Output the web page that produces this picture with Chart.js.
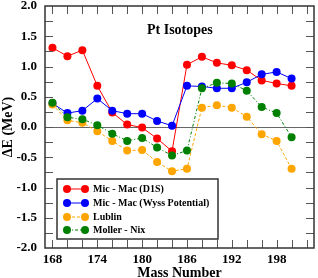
<!DOCTYPE html>
<html>
<head>
<meta charset="utf-8">
<script src="https://cdn.jsdelivr.net/npm/chart.js@4.4.1/dist/chart.umd.min.js"></script>
<style>
html,body{margin:0;padding:0;background:#fff;}
#wrap{width:318px;height:278px;}
</style>
</head>
<body>
<div id="wrap"><canvas id="chart" width="318" height="278"></canvas></div>
<script>
const masses=[168,170,172,174,176,178,180,182,184,186,188,190,192,194,196,198,200];

const micMacD1S=[1.31,1.17,1.27,0.68,0.24,0.04,-0.01,-0.19,-0.40,1.03,1.16,1.06,1.02,0.94,0.77,0.72,0.68];
const micMacWyss=[0.39,0.23,0.27,0.47,0.27,0.22,0.22,0.10,0.02,0.68,0.67,0.64,0.64,0.74,0.87,0.91,0.80];
const lublin=[0.37,0.11,0.07,-0.07,-0.23,-0.39,-0.38,-0.58,-0.73,-0.69,0.32,0.36,0.32,0.17,-0.12,-0.23,-0.69];
const mollerNix=[0.40,0.16,0.13,0.03,-0.11,-0.23,-0.18,-0.34,-0.47,-0.39,0.64,0.73,0.72,0.60,0.33,0.23,-0.17];

const seriesNames=["Mic - Mac (D1S)","Mic - Mac (Wyss Potential)","Lublin","Moller - Nix"];

const xTickLabels=[168,174,180,186,192,198];
const yTickLabels=[-2,-1.5,-1,-0.5,0,0.5,1,1.5,2];

const SERIF="'Liberation Serif','Times New Roman',serif";

function pts(arr){
return masses.map((m,i)=>({x:m,y:arr[i]}));
}

function ds(label,data,color,dash,order){
return {
label:label,
data:pts(data),
borderColor:color,
backgroundColor:color,
pointBackgroundColor:color,
pointBorderColor:color,
pointRadius:4,
pointBorderWidth:0,
borderWidth:1,
borderDash:dash,
showLine:true,
tension:0,
order:order
};
}

// frame, inward ticks, zero line, title and legend box
const decor={
id:"decor",
beforeDatasetsDraw(chart){
const ctx=chart.ctx;
const a=chart.chartArea;
const y0=chart.scales.y.getPixelForValue(0);
ctx.save();
ctx.strokeStyle="#666";
ctx.lineWidth=1;
ctx.beginPath();
ctx.moveTo(a.left,Math.round(y0)+0.5);
ctx.lineTo(a.right,Math.round(y0)+0.5);
ctx.stroke();
ctx.restore();
},
afterDraw(chart){
const ctx=chart.ctx;
const a=chart.chartArea;
const xs=chart.scales.x;
const ys=chart.scales.y;
ctx.save();

// ticks
ctx.strokeStyle="#555";
ctx.lineWidth=1;
ctx.beginPath();
for(let v=168;v<=202;v+=2){
const px=Math.round(xs.getPixelForValue(v))+0.5;
ctx.moveTo(px,a.bottom);ctx.lineTo(px,a.bottom-8);
ctx.moveTo(px,a.top);ctx.lineTo(px,a.top+8);
}
for(let v=-1.75;v<2;v+=0.25){
const py=Math.round(ys.getPixelForValue(v))+0.5;
ctx.moveTo(a.left,py);ctx.lineTo(a.left+8,py);
ctx.moveTo(a.right,py);ctx.lineTo(a.right-8,py);
}
ctx.stroke();

// frame
ctx.strokeStyle="#333";
ctx.lineWidth=1.5;
ctx.strokeRect(a.left,a.top,a.right-a.left,a.bottom-a.top);

// title inside plot
ctx.fillStyle="#000";
ctx.font="bold 14px "+SERIF;
ctx.textAlign="left";
ctx.textBaseline="middle";
ctx.fillText("Pt Isotopes",a.left+102,a.top+24);

// legend
const lx=a.left+12,ly=a.top+173,lw=161,lh=60;
ctx.fillStyle="#fff";
ctx.fillRect(lx,ly,lw,lh);
ctx.strokeStyle="#333";
ctx.lineWidth=1.5;
ctx.strokeRect(lx,ly,lw,lh);
const rowY=[10,24,38,51];
chart.data.datasets.forEach((d,i)=>{
const y=ly+rowY[i];
ctx.strokeStyle=d.borderColor;
ctx.lineWidth=1;
ctx.setLineDash(d.borderDash||[]);
ctx.beginPath();
ctx.moveTo(lx+10,y);ctx.lineTo(lx+28,y);
ctx.stroke();
ctx.setLineDash([]);
ctx.fillStyle=d.borderColor;
[lx+10,lx+28].forEach(cx=>{
ctx.beginPath();ctx.arc(cx,y,4,0,Math.PI*2);ctx.fill();
});
ctx.fillStyle="#000";
ctx.font="bold 10px "+SERIF;
ctx.textAlign="left";
ctx.textBaseline="middle";
ctx.fillText(d.label,lx+36,y+0.5);
});
ctx.restore();
}
};

new Chart(document.getElementById("chart"),{
type:"scatter",
data:{
datasets:[
ds(seriesNames[0],micMacD1S,"#ff0000",[],4),
ds(seriesNames[1],micMacWyss,"#0000ff",[],3),
ds(seriesNames[2],lublin,"#ffa500",[3,2],2),
ds(seriesNames[3],mollerNix,"#008000",[3,2,1,2],1)
]
},
options:{
responsive:false,
devicePixelRatio:1,
animation:false,
layout:{padding:{left:0,top:6,right:3,bottom:0}},
plugins:{
legend:{display:false},
tooltip:{enabled:false}
},
scales:{
x:{
type:"linear",
min:167,
max:203,
afterBuildTicks:s=>{s.ticks=xTickLabels.map(v=>({value:v}));},
afterFit:s=>{s.height=30;s.paddingLeft=0;s.paddingRight=0;},
grid:{display:false,drawTicks:false},
border:{display:false},
ticks:{
autoSkip:false,
maxRotation:0,
padding:4,
color:"#000",
font:{family:SERIF,size:13,weight:"bold"},
callback:v=>String(v)
},
title:{
display:true,
text:"Mass Number",
color:"#000",
padding:{top:0,bottom:-4},
font:{family:SERIF,size:14,weight:"bold"}
}
},
y:{
type:"linear",
min:-2,
max:2,
afterBuildTicks:s=>{s.ticks=yTickLabels.map(v=>({value:v}));},
afterFit:s=>{s.width=45;s.paddingTop=0;s.paddingBottom=0;},
grid:{display:false,drawTicks:false},
border:{display:false},
ticks:{
padding:8,
color:"#000",
font:{family:SERIF,size:13,weight:"bold"},
callback:v=>Number(v).toFixed(1)
},
title:{
display:true,
text:"ΔE (MeV)",
color:"#000",
padding:{top:0,bottom:0},
font:{family:SERIF,size:14,weight:"bold"}
}
}
}
},
plugins:[decor]
});
</script>
</body>
</html>
